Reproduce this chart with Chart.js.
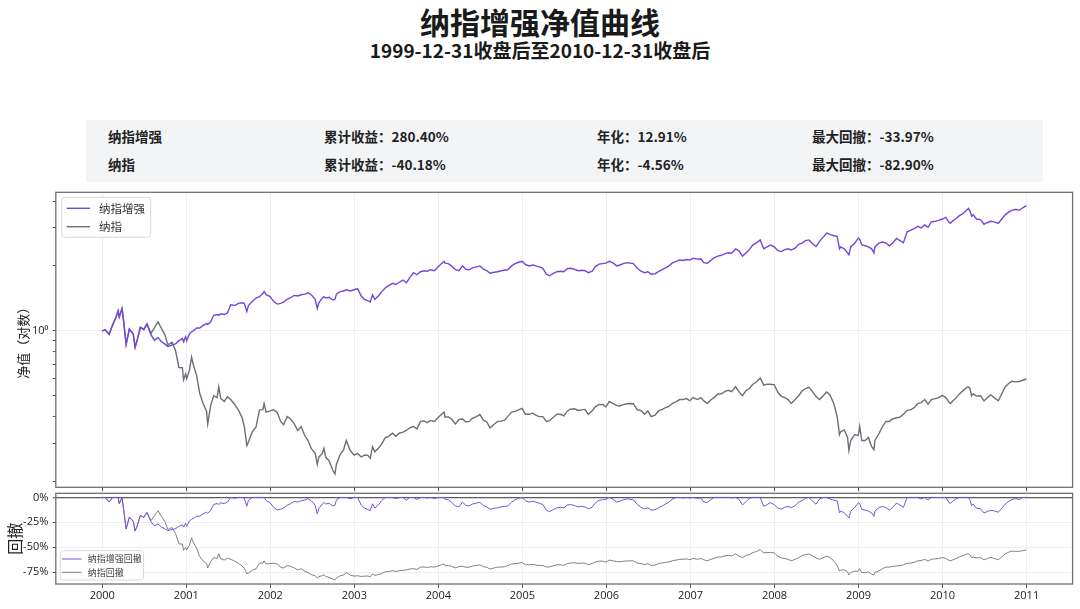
<!DOCTYPE html>
<html lang="zh-CN">
<head>
<meta charset="utf-8">
<title>纳指增强净值曲线</title>
<script src="https://cdn.jsdelivr.net/npm/chart.js@4.4.1/dist/chart.umd.min.js"></script>
<style>
  html, body { margin: 0; padding: 0; background: #fff; }
  body { width: 1080px; height: 609px; position: relative; overflow: hidden;
         font-family: "Noto Sans CJK SC", "Noto Sans", sans-serif; color: #1a1a1a; }
  #title { position: absolute; top: 2px; left: 0; width: 1080px; text-align: center;
           font-size: 30px; font-weight: 700; line-height: 38px; }
  #subtitle { position: absolute; top: 37px; left: 0; width: 1080px; text-align: center;
              font-size: 19px; font-weight: 700; line-height: 25px; }
  #stats { position: absolute; left: 86px; top: 120px; width: 957px; height: 62px; background: #f3f4f6; }
  .cell { position: absolute; font-size: 13.5px; font-weight: 700; line-height: 18px; white-space: nowrap; color: #222; }
  #navBox { position: absolute; left: 0; top: 180px; width: 1080px; height: 312px; }
  #ddBox { position: absolute; left: 0; top: 486px; width: 1080px; height: 123px; }
</style>
</head>
<body>
<div id="title">纳指增强净值曲线</div>
<div id="subtitle">1999-12-31收盘后至2010-12-31收盘后</div>
<div id="stats"></div>
<div id="navBox"><canvas id="navChart"></canvas></div>
<div id="ddBox"><canvas id="ddChart"></canvas></div>

<script>
// 统计表
const statNames  = ['纳指增强', '纳指'];
const statTotal  = ['280.40%', '-40.18%'];
const statAnnual = ['12.91%', '-4.56%'];
const statMaxDD  = ['-33.97%', '-82.90%'];

// 日期（半月采样 + 关键高低点）
const dates = [
  '1999-12-31',
  '2000-01-14','2000-01-31','2000-02-15','2000-02-29','2000-03-10','2000-03-15','2000-03-27','2000-03-31','2000-04-14','2000-04-28',
  '2000-05-15','2000-05-23','2000-05-31','2000-06-15','2000-06-30','2000-07-14','2000-07-31','2000-08-15','2000-08-31','2000-09-15',
  '2000-09-29','2000-10-13','2000-10-31','2000-11-15','2000-11-30','2000-12-15','2000-12-20','2000-12-29',
  '2001-01-03','2001-01-15','2001-01-24','2001-01-31','2001-02-15','2001-02-28','2001-03-15','2001-03-30','2001-04-04','2001-04-17',
  '2001-04-30','2001-05-15','2001-05-22','2001-05-31','2001-06-15','2001-06-29','2001-07-13','2001-07-31','2001-08-15','2001-08-31',
  '2001-09-10','2001-09-21','2001-09-28','2001-10-15','2001-10-31','2001-11-15','2001-11-30','2001-12-05','2001-12-14','2001-12-31',
  '2002-01-15','2002-01-31','2002-02-15','2002-02-28','2002-03-15','2002-03-28','2002-04-15','2002-04-30','2002-05-15','2002-05-31',
  '2002-06-14','2002-06-28','2002-07-15','2002-07-24','2002-07-31','2002-08-15','2002-08-22','2002-08-30','2002-09-13','2002-09-30',
  '2002-10-09','2002-10-15','2002-10-31','2002-11-15','2002-11-27','2002-12-13','2002-12-31',
  '2003-01-15','2003-01-31','2003-02-14','2003-02-28','2003-03-11','2003-03-21','2003-03-31','2003-04-15','2003-04-30','2003-05-15',
  '2003-05-30','2003-06-16','2003-06-30','2003-07-15','2003-07-31','2003-08-15','2003-08-29','2003-09-15','2003-09-30','2003-10-15',
  '2003-10-31','2003-11-14','2003-11-28','2003-12-15','2003-12-31',
  '2004-01-15','2004-01-26','2004-01-30','2004-02-13','2004-02-27','2004-03-15','2004-03-31','2004-04-15','2004-04-30','2004-05-14',
  '2004-05-28','2004-06-15','2004-06-30','2004-07-15','2004-07-30','2004-08-13','2004-08-31','2004-09-15','2004-09-30','2004-10-15',
  '2004-10-29','2004-11-15','2004-11-30','2004-12-15','2004-12-31',
  '2005-01-14','2005-01-31','2005-02-15','2005-02-28','2005-03-15','2005-03-31','2005-04-15','2005-04-29','2005-05-13','2005-05-31',
  '2005-06-15','2005-06-30','2005-07-15','2005-07-29','2005-08-15','2005-08-31','2005-09-15','2005-09-30','2005-10-14','2005-10-31',
  '2005-11-15','2005-11-30','2005-12-15','2005-12-30',
  '2006-01-13','2006-01-31','2006-02-15','2006-02-28','2006-03-15','2006-03-31','2006-04-13','2006-04-28','2006-05-15','2006-05-31',
  '2006-06-15','2006-06-30','2006-07-14','2006-07-31','2006-08-15','2006-08-31','2006-09-15','2006-09-29','2006-10-13','2006-10-31',
  '2006-11-15','2006-11-30','2006-12-15','2006-12-29',
  '2007-01-12','2007-01-31','2007-02-15','2007-02-28','2007-03-15','2007-03-30','2007-04-13','2007-04-30','2007-05-15','2007-05-31',
  '2007-06-15','2007-06-29','2007-07-16','2007-07-31','2007-08-15','2007-08-31','2007-09-14','2007-09-28','2007-10-15','2007-10-31',
  '2007-11-15','2007-11-30','2007-12-14','2007-12-31',
  '2008-01-15','2008-01-31','2008-02-15','2008-02-29','2008-03-14','2008-03-31','2008-04-15','2008-04-30','2008-05-15','2008-05-30',
  '2008-06-13','2008-06-30','2008-07-15','2008-07-31','2008-08-15','2008-08-29','2008-09-15','2008-09-30','2008-10-10','2008-10-15',
  '2008-10-31','2008-11-14','2008-11-20','2008-11-28','2008-12-15','2008-12-31',
  '2009-01-06','2009-01-15','2009-01-30','2009-02-13','2009-02-27','2009-03-09','2009-03-13','2009-03-31','2009-04-15','2009-04-30',
  '2009-05-15','2009-05-29','2009-06-15','2009-06-30','2009-07-15','2009-07-31','2009-08-14','2009-08-31','2009-09-15','2009-09-30',
  '2009-10-15','2009-10-30','2009-11-13','2009-11-30','2009-12-15','2009-12-31',
  '2010-01-15','2010-01-29','2010-02-05','2010-02-12','2010-02-26','2010-03-15','2010-03-31','2010-04-15','2010-04-23','2010-04-30',
  '2010-05-07','2010-05-14','2010-05-28','2010-06-15','2010-06-30','2010-07-15','2010-07-30','2010-08-13','2010-08-31','2010-09-15',
  '2010-09-30','2010-10-15','2010-10-29','2010-11-15','2010-11-30','2010-12-15','2010-12-31'
];

// 纳指增强净值
const navEnhanced = [
  1.000,
  1.010,0.963,1.065,1.150,1.237,1.160,1.269,1.186,0.865,1.018,
  0.966,0.840,0.896,1.038,1.015,1.076,0.960,0.905,0.930,0.890,
  0.870,0.845,0.860,0.870,0.900,0.920,0.890,0.940,
  0.900,0.970,0.990,1.000,1.030,1.030,1.060,1.080,1.070,1.100,
  1.180,1.190,1.180,1.200,1.190,1.210,1.320,1.310,1.340,1.350,
  1.340,1.230,1.310,1.370,1.420,1.440,1.490,1.520,1.470,1.440,
  1.370,1.330,1.340,1.360,1.400,1.420,1.460,1.450,1.470,1.480,
  1.500,1.470,1.400,1.270,1.350,1.420,1.440,1.420,1.430,1.390,
  1.400,1.480,1.520,1.530,1.550,1.530,1.550,
  1.570,1.450,1.400,1.380,1.360,1.470,1.400,1.450,1.520,1.580,
  1.620,1.660,1.640,1.680,1.720,1.670,1.760,1.860,1.820,1.880,
  1.900,1.890,1.920,1.900,1.980,
  2.050,2.100,2.060,2.050,2.000,1.920,1.900,2.000,1.930,1.920,
  1.960,1.980,2.000,1.930,1.900,1.850,1.870,1.880,1.900,1.910,
  1.920,2.000,2.050,2.080,2.100,
  2.030,2.000,2.020,2.000,1.980,1.950,1.830,1.800,1.840,1.880,
  1.890,1.880,1.940,1.950,1.930,1.900,1.910,1.900,1.860,1.890,
  1.990,2.040,2.050,2.060,
  2.100,2.060,2.000,2.020,2.050,2.070,2.060,2.050,1.950,1.890,
  1.860,1.880,1.830,1.840,1.880,1.920,1.960,2.000,2.060,2.100,
  2.130,2.120,2.140,2.130,
  2.170,2.150,2.160,2.070,2.060,2.120,2.180,2.220,2.240,2.280,
  2.300,2.290,2.400,2.350,2.220,2.300,2.380,2.500,2.560,2.640,
  2.400,2.450,2.500,2.450,
  2.360,2.330,2.380,2.400,2.370,2.420,2.520,2.550,2.620,2.640,
  2.550,2.460,2.600,2.720,2.840,2.800,2.760,2.740,2.400,2.450,
  2.400,2.300,2.250,2.450,2.550,2.690,
  2.660,2.500,2.480,2.450,2.400,2.300,2.450,2.550,2.580,2.550,
  2.480,2.550,2.680,2.620,2.560,2.880,2.920,2.980,3.050,3.000,
  3.100,3.020,3.200,3.220,3.250,3.300,
  3.360,3.180,3.160,3.220,3.300,3.420,3.500,3.620,3.700,3.600,
  3.400,3.450,3.300,3.280,3.120,3.180,3.220,3.200,3.150,3.300,
  3.450,3.550,3.620,3.660,3.620,3.720,3.804
];

// 纳指净值
const navNasdaq = [
  1.000,
  1.010,0.963,1.065,1.150,1.237,1.160,1.269,1.186,0.865,1.018,
  0.966,0.840,0.896,1.038,1.015,1.076,0.973,1.033,1.100,1.025,
  0.963,0.860,0.885,0.810,0.676,0.674,0.593,0.631,
  0.600,0.660,0.755,0.700,0.620,0.515,0.460,0.424,0.370,0.450,
  0.500,0.490,0.550,0.485,0.470,0.494,0.480,0.454,0.430,0.396,
  0.360,0.294,0.305,0.340,0.358,0.430,0.431,0.460,0.420,0.425,
  0.430,0.418,0.380,0.367,0.400,0.392,0.370,0.345,0.360,0.326,
  0.310,0.284,0.270,0.240,0.260,0.270,0.285,0.259,0.250,0.225,
  0.217,0.240,0.267,0.280,0.310,0.280,0.265,
  0.270,0.260,0.265,0.265,0.256,0.290,0.275,0.285,0.298,0.320,
  0.324,0.335,0.324,0.335,0.339,0.345,0.355,0.360,0.351,0.380,
  0.382,0.375,0.384,0.380,0.396,
  0.410,0.420,0.398,0.400,0.390,0.370,0.388,0.390,0.378,0.380,
  0.393,0.400,0.409,0.385,0.378,0.355,0.369,0.380,0.381,0.385,
  0.400,0.420,0.423,0.430,0.437,
  0.410,0.410,0.415,0.406,0.400,0.400,0.380,0.383,0.395,0.410,
  0.410,0.403,0.425,0.433,0.435,0.427,0.430,0.432,0.410,0.426,
  0.445,0.456,0.455,0.444,
  0.470,0.459,0.450,0.448,0.455,0.459,0.460,0.459,0.430,0.427,
  0.410,0.425,0.400,0.406,0.425,0.432,0.440,0.446,0.460,0.470,
  0.480,0.480,0.485,0.474,
  0.490,0.480,0.490,0.473,0.460,0.478,0.490,0.509,0.510,0.524,
  0.530,0.522,0.550,0.521,0.500,0.530,0.540,0.564,0.580,0.604,
  0.560,0.566,0.565,0.562,
  0.520,0.497,0.490,0.480,0.460,0.480,0.500,0.526,0.540,0.547,
  0.525,0.496,0.480,0.500,0.520,0.505,0.460,0.400,0.330,0.340,
  0.347,0.320,0.279,0.310,0.330,0.327,
  0.360,0.310,0.310,0.320,0.290,0.281,0.310,0.334,0.360,0.380,
  0.380,0.390,0.395,0.398,0.410,0.428,0.430,0.440,0.460,0.464,
  0.480,0.457,0.480,0.485,0.490,0.502,
  0.490,0.466,0.460,0.470,0.486,0.510,0.528,0.545,0.550,0.539,
  0.500,0.510,0.498,0.500,0.473,0.490,0.505,0.490,0.474,0.510,
  0.549,0.570,0.584,0.580,0.582,0.590,0.598
];

const yearTicks = [2000, 2001, 2002, 2003, 2004, 2005, 2006, 2007, 2008, 2009, 2010, 2011];
const navTicks = [0.2, 0.3, 0.4, 0.5, 0.6, 0.7, 0.8, 0.9, 1, 2, 3, 4];
const ddTicks = [0, -0.25, -0.5, -0.75];

// 统计表
const stats = document.getElementById('stats');
const colX = [22, 238, 511, 726];
statNames.forEach((name, i) => {
  const row = [name, '累计收益：' + statTotal[i], '年化：' + statAnnual[i], '最大回撤：' + statMaxDD[i]];
  row.forEach((txt, j) => {
    const el = document.createElement('div');
    el.className = 'cell';
    el.style.left = colX[j] + 'px';
    el.style.top = (6.7 + i * 28.6) + 'px';
    el.textContent = txt;
    stats.appendChild(el);
  });
});

// 日期转小数年
function toYear(s) {
  const [y, m, d] = s.split('-').map(Number);
  const start = Date.UTC(y, 0, 1);
  return y + (Date.UTC(y, m - 1, d) - start) / (Date.UTC(y + 1, 0, 1) - start);
}
const xs = dates.map(toYear);

function drawdown(vals) {
  let peak = -Infinity;
  return vals.map(v => { peak = Math.max(peak, v); return v / peak - 1; });
}
const ddEnhanced = drawdown(navEnhanced);
const ddNasdaq = drawdown(navNasdaq);

const pts = vals => vals.map((v, i) => ({ x: xs[i], y: v }));

// 坐标范围（5% 边距）
const xSpan = xs[xs.length - 1] - xs[0];
const xMin = xs[0] - 0.05 * xSpan, xMax = xs[xs.length - 1] + 0.05 * xSpan;
const allNav = navEnhanced.concat(navNasdaq);
const lo = Math.log10(Math.min(...allNav)), hi = Math.log10(Math.max(...allNav));
const navMin = Math.pow(10, lo - 0.05 * (hi - lo)), navMax = Math.pow(10, hi + 0.05 * (hi - lo));
const ddLo = Math.min(...ddEnhanced, ...ddNasdaq);
const ddMin = ddLo + 0.05 * ddLo, ddMax = -0.05 * ddLo;

const PURPLE = '#7347dc';
const GREY = '#6b6f76';
const GRID = '#eceef2';
const TICK_FONT = { family: "'Open Sans', 'DejaVu Sans', sans-serif", size: 11 };

// 外框
const framePlugin = {
  id: 'frame',
  afterDraw(chart, args, opts) {
    const { ctx, chartArea: a } = chart;
    ctx.save();
    ctx.strokeStyle = opts.color;
    ctx.lineWidth = opts.width;
    ctx.strokeRect(a.left, a.top, a.right - a.left, a.bottom - a.top);
    ctx.restore();
  }
};

// 图内图例
const innerLegend = {
  id: 'innerLegend',
  afterDraw(chart, args, o) {
    const { ctx, chartArea: a } = chart;
    const left = a.left + o.dx;
    const top = o.fromBottom ? a.bottom - o.dy - o.h : a.top + o.dy;
    ctx.save();
    ctx.fillStyle = 'rgba(255,255,255,0.85)';
    ctx.strokeStyle = '#d8d8d8';
    ctx.lineWidth = 1;
    ctx.beginPath();
    if (ctx.roundRect) ctx.roundRect(left, top, o.w, o.h, 3); else ctx.rect(left, top, o.w, o.h);
    ctx.fill();
    ctx.stroke();
    chart.data.datasets.forEach((ds, i) => {
      const y = top + o.firstRow + i * o.rowGap;
      ctx.strokeStyle = ds.borderColor;
      ctx.lineWidth = o.lineWidth;
      ctx.beginPath();
      ctx.moveTo(left + o.lineStart, y);
      ctx.lineTo(left + o.lineStart + o.lineLen, y);
      ctx.stroke();
      ctx.fillStyle = o.textColor;
      ctx.font = o.fontSize + "px 'Noto Sans CJK SC', sans-serif";
      ctx.textBaseline = 'middle';
      ctx.fillText(ds.label, left + o.textStart, y);
    });
    ctx.restore();
  }
};

function xAxis(showLabels, height) {
  return {
    type: 'linear',
    min: xMin,
    max: xMax,
    afterBuildTicks: s => { s.ticks = yearTicks.map(v => ({ value: v })); },
    afterFit: s => { s.height = height; s.paddingLeft = 0; s.paddingRight = 0; },
    grid: { color: GRID, lineWidth: 1, tickLength: 4, tickColor: '#555', tickWidth: 1 },
    border: { display: false },
    ticks: {
      display: showLabels, autoSkip: false, maxRotation: 0, padding: 1,
      color: '#222', font: TICK_FONT, callback: v => String(v)
    }
  };
}

new Chart(document.getElementById('navChart'), {
  type: 'line',
  data: {
    datasets: [
      { label: '纳指增强', data: pts(navEnhanced), borderColor: PURPLE, borderWidth: 1.4, pointRadius: 0, tension: 0 },
      { label: '纳指', data: pts(navNasdaq), borderColor: GREY, borderWidth: 1.4, pointRadius: 0, tension: 0 }
    ]
  },
  options: {
    responsive: true,
    maintainAspectRatio: false,
    animation: false,
    events: [],
    layout: { padding: { top: 12.3, right: 7.4, left: 0, bottom: 0 } },
    scales: {
      x: xAxis(false, 4.7),
      y: {
        type: 'logarithmic',
        min: navMin,
        max: navMax,
        afterBuildTicks: s => { s.ticks = navTicks.map(v => ({ value: v })); },
        afterFit: s => { s.width = 55.8; s.paddingTop = 0; s.paddingBottom = 0; },
        grid: {
          color: c => (c.tick && c.tick.value === 1) ? GRID : 'rgba(0,0,0,0)',
          tickColor: '#555', tickLength: 3, tickWidth: 1
        },
        border: { display: false },
        ticks: {
          autoSkip: false, padding: 4.5, color: '#222', font: TICK_FONT,
          callback: v => (v === 1 ? '10⁰' : '')
        },
        title: {
          display: true, text: '净值（对数）', color: '#222',
          font: { family: "'Noto Sans CJK SC', sans-serif", size: 13 },
          padding: { top: 15, bottom: 0 }
        }
      }
    },
    plugins: {
      legend: { display: false },
      tooltip: { enabled: false },
      frame: { color: '#707070', width: 1.3 },
      innerLegend: {
        dx: 5.9, dy: 5, w: 89, h: 40, firstRow: 11, rowGap: 18.4,
        lineStart: 5, lineLen: 23.3, textStart: 37.3, lineWidth: 1.4,
        fontSize: 11.5, textColor: '#333', fromBottom: false
      }
    }
  },
  plugins: [framePlugin, innerLegend]
});

new Chart(document.getElementById('ddChart'), {
  type: 'line',
  data: {
    datasets: [
      { label: '纳指增强回撤', data: pts(ddEnhanced), borderColor: '#7a50e0', borderWidth: 1, pointRadius: 0, tension: 0 },
      { label: '纳指回撤', data: pts(ddNasdaq), borderColor: '#808080', borderWidth: 1, pointRadius: 0, tension: 0 }
    ]
  },
  options: {
    responsive: true,
    maintainAspectRatio: false,
    animation: false,
    events: [],
    layout: { padding: { top: 7.3, right: 7.4, left: 0, bottom: 0 } },
    scales: {
      x: xAxis(true, 25),
      y: {
        type: 'linear',
        min: ddMin,
        max: ddMax,
        afterBuildTicks: s => { s.ticks = ddTicks.map(v => ({ value: v })); },
        afterFit: s => { s.width = 55.8; s.paddingTop = 0; s.paddingBottom = 0; },
        grid: {
          color: c => (c.tick && c.tick.value === 0) ? '#5c5c5c' : GRID,
          lineWidth: c => (c.tick && c.tick.value === 0) ? 1.3 : 1,
          tickColor: '#555', tickLength: 3, tickWidth: 1
        },
        border: { display: false },
        ticks: {
          autoSkip: false, padding: 4.5, color: '#222', font: TICK_FONT,
          callback: v => Math.round(v * 100) + '%'
        },
        title: {
          display: true, text: '回撤', color: '#222',
          font: { family: "'Noto Sans CJK SC', sans-serif", size: 16 },
          padding: { top: 5.5, bottom: 0 }
        }
      }
    },
    plugins: {
      legend: { display: false },
      tooltip: { enabled: false },
      frame: { color: '#707070', width: 1.3 },
      innerLegend: {
        dx: 4.5, dy: 4, w: 83.3, h: 29.3, firstRow: 8.3, rowGap: 13.3,
        lineStart: 1.7, lineLen: 19.6, textStart: 27.5, lineWidth: 1,
        fontSize: 9, textColor: '#444', fromBottom: true
      }
    }
  },
  plugins: [framePlugin, innerLegend]
});
</script>
</body>
</html>
